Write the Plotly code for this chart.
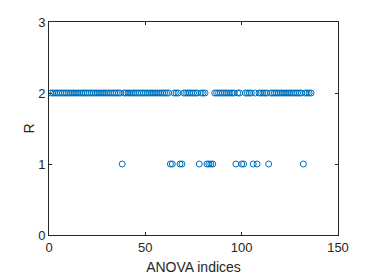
import plotly.graph_objects as go

anova_index = list(range(1, 137))
R = [
    2, 2, 2, 2, 2, 2, 2, 2, 2, 2,
    2, 2, 2, 2, 2, 2, 2, 2, 2, 2,
    2, 2, 2, 2, 2, 2, 2, 2, 2, 2,
    2, 2, 2, 2, 2, 2, 2, 1, 2, 2,
    2, 2, 2, 2, 2, 2, 2, 2, 2, 2,
    2, 2, 2, 2, 2, 2, 2, 2, 2, 2,
    2, 2, 1, 1, 2, 2, 2, 1, 1, 2,
    2, 2, 2, 2, 2, 2, 2, 1, 2, 2,
    2, 1, 1, 1, 1, 2, 2, 2, 2, 2,
    2, 2, 2, 2, 2, 2, 1, 2, 2, 1,
    1, 2, 2, 2, 2, 1, 2, 1, 2, 2,
    2, 2, 2, 1, 2, 2, 2, 2, 2, 2,
    2, 2, 2, 2, 2, 2, 2, 2, 2, 2,
    2, 1, 2, 2, 2, 2,
]
x_ticks = [0, 50, 100, 150]
y_ticks = [0, 1, 2, 3]

fig = go.Figure(go.Scatter(
    x=anova_index, y=R, mode="markers",
    marker=dict(symbol="circle-open", size=6, color="#0072BD", line=dict(width=1)),
))

axis_common = dict(
    showgrid=False, zeroline=False, showline=True, linecolor="#262626", linewidth=0.8,
    mirror="ticks", ticks="inside", ticklen=3, tickcolor="#262626", tickwidth=0.8,
    automargin=False,
    tickfont=dict(family="Liberation Sans, Arial, sans-serif", size=13, color="#262626"),
)
fig.update_xaxes(range=[0, 150], tickvals=x_ticks,
                 title=dict(text="ANOVA indices", standoff=8,
                            font=dict(family="Liberation Sans, Arial, sans-serif", size=14, color="#262626")),
                 **axis_common)
fig.update_yaxes(range=[0, 3], tickvals=y_ticks,
                 title=dict(text="R", standoff=0,
                            font=dict(family="Liberation Sans, Arial, sans-serif", size=14, color="#262626")),
                 **axis_common)
fig.update_layout(
    width=374, height=277, margin=dict(l=49, r=36, t=22, b=42),
    plot_bgcolor="white", paper_bgcolor="white", showlegend=False,
)
fig.write_html("out.html", config={"displayModeBar": False},
               post_script="document.body.style.margin='0';")
